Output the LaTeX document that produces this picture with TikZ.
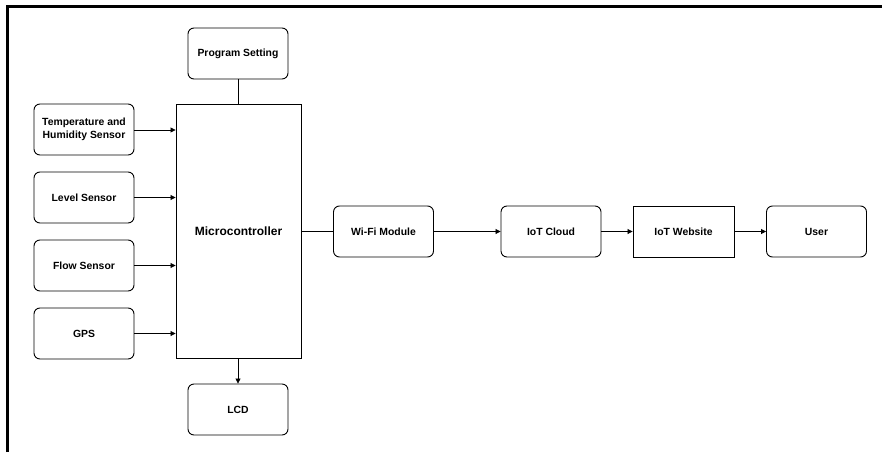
\documentclass[tikz,border=0pt]{standalone}
\usepackage{fontspec}
\setmainfont{Liberation Sans}
\usetikzlibrary{arrows.meta}
\begin{document}
\begin{tikzpicture}[x=1pt,y=-1pt,
  rbox/.style={draw, line width=0.9pt, rounded corners=6pt, minimum width=100pt, minimum height=51pt, font=\fontsize{10.4}{12.5}\selectfont\bfseries, align=center, inner sep=1pt},
  sbox/.style={draw, line width=0.9pt, minimum width=101pt, minimum height=51pt, font=\fontsize{10.4}{12.5}\selectfont\bfseries, align=center},
  conn/.style={line width=0.8pt},
  arr/.style={line width=0.8pt, -{Triangle[length=5pt,width=5pt]}}]
\useasboundingbox (0,0) rectangle (882,452);
\fill[white] (0,0) rectangle (882,452);
\draw[line width=3pt] (7,452) -- (7,7) -- (882,7);
% nodes
\node[rbox] (prog) at (238,53.5) {Program Setting};
\node[draw, line width=0.9pt, minimum width=125pt, minimum height=254pt, font=\fontsize{12}{14}\selectfont\bfseries] (mc) at (238.5,231) {Microcontroller};
\node[rbox] (temp) at (84,129.5) {Temperature and\\Humidity Sensor};
\node[rbox] (level) at (84,197.5) {Level Sensor};
\node[rbox] (flow) at (84,265.5) {Flow Sensor};
\node[rbox] (gps) at (84,333.5) {GPS};
\node[rbox] (lcd) at (238,409.5) {LCD};
\node[rbox] (wifi) at (383.5,231.5) {Wi-Fi Module};
\node[rbox] (cloud) at (551,231.5) {IoT Cloud};
\node[sbox] (web) at (683.5,231.5) {IoT Website};
\node[rbox] (user) at (816.5,231.5) {User};
% connectors
\draw[conn] (prog.south) -- (mc.north -| prog.south);
\draw[arr] (temp.east |- 0,130) -- (mc.west |- 0,130);
\draw[arr] (level.east) -- (mc.west |- level.east);
\draw[arr] (flow.east) -- (mc.west |- flow.east);
\draw[arr] (gps.east) -- (mc.west |- gps.east);
\draw[arr] (mc.south -| lcd.north) -- (lcd.north);
\draw[conn] (mc.east |- wifi.west) -- (wifi.west);
\draw[arr] (wifi.east) -- (cloud.west);
\draw[arr] (cloud.east) -- (web.west);
\draw[arr] (web.east) -- (user.west);
\end{tikzpicture}
\end{document}
